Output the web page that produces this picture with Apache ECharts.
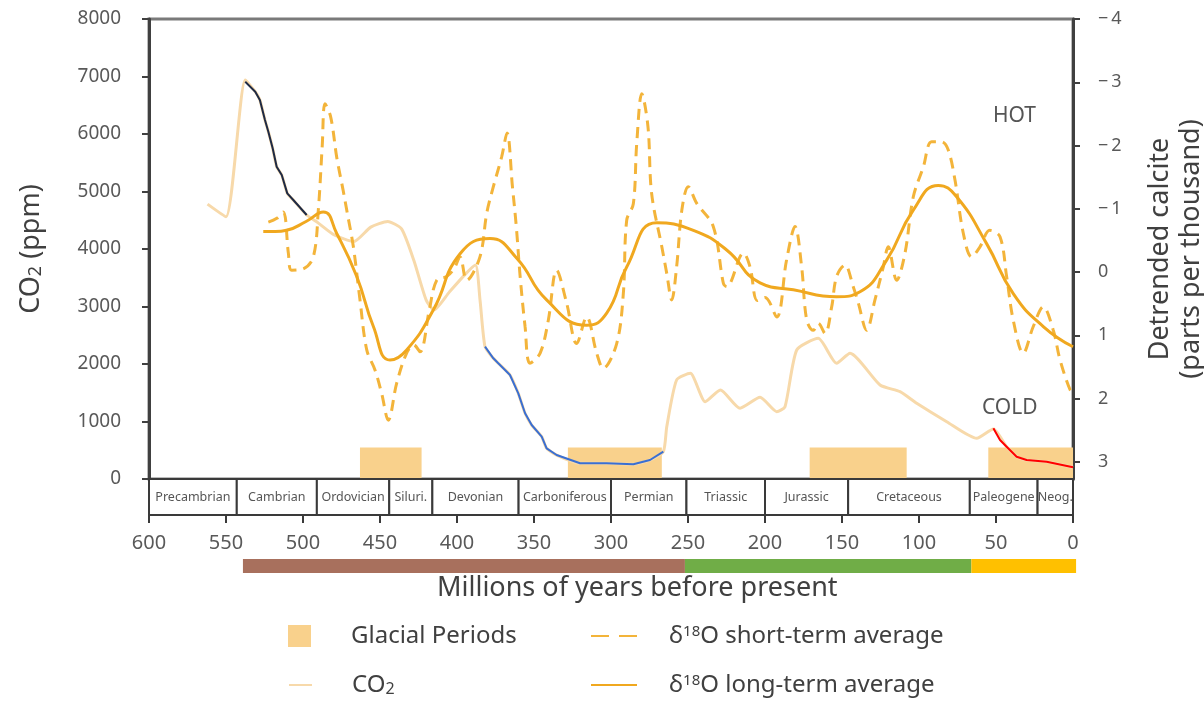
<!DOCTYPE html>
<html><head><meta charset="utf-8">
<script src="https://cdn.jsdelivr.net/npm/echarts@6/dist/echarts.min.js"></script>
<style>html,body{margin:0;padding:0;background:#fff}#c{width:1204px;height:708px}</style>
</head><body><div id="c"></div>
<script>
// ---- data ----
const co2Years = [562,550,537.5,531,528,524.7,522.5,519.7,517.1,513.8,510.2,506.3,497.6,490,480,467,456,445,436,428,420,415,405,395,388,385,381.8,376.4,373.2,365.6,360.2,355.8,351.5,345,341.8,335.3,320.1,302.8,285.5,274.7,266,263.8,257.4,248.5,238.8,229,216.2,203.2,192.4,187,179.4,165.4,153.5,144.8,125.3,112.3,101.5,82,62.5,51.7,43.1,36.6,30.1,17.1,0];
const co2Values = [4780,4560,6940,6736,6591,6243,6040,5751,5431,5287,4968,4852,4591,4450,4250,4130,4380,4480,4350,3800,3110,2940,3250,3550,3720,3100,2300,2099,2012,1809,1490,1143,939,736,534,417,273,273,256,330,475,910,1722,1838,1344,1548,1230,1420,1171,1258,2243,2447,2012,2186,1635,1518,1316,997,708,870,562,388,330,301,203];

const blackYears = [537.5,531,528,524.7,522.5,519.7,517.1,513.8,510.2,506.3,497.6];
const blackValues = [6910,6736,6591,6243,6040,5751,5431,5287,4968,4852,4591];
const blueYears = [381.8,376.4,373.2,365.6,360.2,355.8,351.5,345,341.8,335.3,320.1,302.8,285.5,274.7,266];
const blueValues = [2301,2099,2012,1809,1490,1143,939,736,534,417,273,273,256,330,475];
const redYears = [51.7,47.4,43.1,36.6,30.1,17.1,0];
const redValues = [881,678,562,388,330,301,203];

const stYears = [522.5,517,512.8,509.5,507.4,500,493.3,490,487.5,485.7,482,478,474,471.6,467.3,463,458.6,453.2,448.9,444.6,439.2,432.7,428,424,418,413.2,406.7,402,398,393.7,385.1,380.7,376.4,371,367.5,364,361.5,359,355.8,352.6,346,340.7,335.3,328.8,322.3,315.8,309.3,305,296.3,292,289.8,285.5,283.3,280,276,273.6,267,263.8,260.6,257.4,254,249.8,244.4,233.6,227,224.9,214,209.7,205,200,192.4,186,180.5,176.2,172.9,168.6,165.4,161,156.7,153.5,148.1,142.7,139.4,134,128.6,123.2,120,114.5,109.1,103.7,97.2,91.8,85.3,81,76.6,71.2,65.8,60.4,54,47.4,43.1,38.8,32.3,25.8,19.3,12.8,8.4,1.9,0];
const stValues = [-0.79,-0.85,-0.95,-0.30,-0.03,-0.05,-0.24,-1.0,-2.0,-2.66,-2.45,-1.8,-1.3,-0.98,-0.40,0.44,1.23,1.55,1.92,2.34,1.76,1.28,1.15,1.26,0.6,0.13,0.07,-0.05,-0.24,0.13,-0.24,-0.93,-1.35,-1.82,-2.2,-1.35,-0.72,0.07,0.86,1.44,1.28,0.76,-0.03,0.49,1.13,0.71,1.28,1.52,1.13,0.34,-0.82,-1.08,-2.03,-2.82,-2.30,-1.24,-0.40,0.02,0.44,-0.08,-0.98,-1.35,-1.09,-0.72,0.18,0.23,-0.30,-0.08,0.45,0.40,0.71,-0.19,-0.72,-0.08,0.76,0.92,0.81,0.97,0.55,0.07,-0.11,0.23,0.49,0.92,0.44,-0.08,-0.40,0.13,-0.30,-1.19,-1.66,-2.06,-2.06,-1.93,-1.45,-0.61,-0.24,-0.40,-0.66,-0.56,0.07,0.76,1.28,0.86,0.55,0.92,1.39,1.86,1.9];

const ltYears = [525.8,518,510.6,498,486.8,478.1,465.1,454.3,443.5,432.7,415.4,398,378.6,361.2,341.8,315.8,302.8,289.8,270.3,246.5,224.9,203.2,181.6,153.5,138.3,121,103.7,87.5,75.6,56.1,38.8,19.3,0];
const ltValues = [-0.64,-0.64,-0.66,-0.8,-0.95,-0.61,0.07,0.86,1.39,1.23,0.60,-0.29,-0.53,-0.22,0.44,0.84,0.65,-0.08,-0.78,-0.66,-0.35,0.17,0.28,0.39,0.31,-0.19,-0.98,-1.37,-1.19,-0.45,0.34,0.86,1.18];

const glacialStart = [463,328,171,55];
const glacialEnd = [423,267,108,0];
const glacialLevel = 550;

const periodNames = ['Precambrian','Cambrian','Ordovician','Siluri.','Devonian','Carboniferous','Permian','Triassic','Jurassic','Cretaceous','Paleogene','Neog.'];
const periodStart = [600,543,491,444,416,360,300,251,200,146,67,23];
const periodEnd   = [543,491,444,416,360,300,251,200,146,67,23,0];

const eraStart = [539,252,66];
const eraEnd = [252,66,-2];
const eraColors = ['#a8705d','#70ad47','#ffc000'];

const leftTicks = [0,1000,2000,3000,4000,5000,6000,7000,8000];
const rightTicks = [-4,-3,-2,-1,0,1,2,3];
const xTicks = [0,50,100,150,200,250,300,350,400,450,500,550,600];

// ---- helpers ----
const zip = (a, b) => a.map((v, i) => [v, b[i]]);
const FONT = 'Noto Sans';
const glacialColor = '#f9d18c';
const labelColor = '#595959';
const textColor = '#404040';

const chart = echarts.init(document.getElementById('c'));
const nameRich = {
  sup: {fontSize: 15, verticalAlign: 'top', fontFamily: FONT, color: textColor},
  sub: {fontSize: 16, verticalAlign: 'bottom', fontFamily: FONT, color: textColor}
};
const legendFmt = n => {
  if (n === 'CO2') return 'CO{sub|2}';
  if (n.indexOf('δ18O') === 0) return 'δ{sup|18}O' + n.slice(4);
  return n;
};
const hideSym = {color: 'rgba(0,0,0,0)', borderWidth: 0, opacity: 0};
const mkLegend = (left, top, item, pad, w) => ({
  left: left, top: top, padding: 0, itemWidth: w, itemHeight: 22, selectedMode: false,
  data: [item], formatter: legendFmt,
  textStyle: {fontSize: 24, color: textColor, fontFamily: FONT, padding: [0, 0, 0, pad], rich: nameRich}
});

chart.setOption({
  animation: false,
  backgroundColor: '#fff',
  textStyle: {fontFamily: FONT},
  grid: [
    {left: 149, right: 131, top: 19, height: 460, show: true, borderColor: '#7a7a7a', borderWidth: 3, outerBoundsMode: 'none', containLabel: false},
    {left: 149, right: 131, top: 479, height: 36, show: true, borderColor: '#3a3a3a', borderWidth: 2, outerBoundsMode: 'none', containLabel: false},
    {left: 149, right: 131, top: 559, height: 14, show: false, outerBoundsMode: 'none', containLabel: false}
  ],
  xAxis: [
    {gridIndex: 0, type: 'value', min: 0, max: 600, inverse: true, axisLine: {show: true, onZero: false, lineStyle: {color: '#3a3a3a', width: 2}}, axisTick: {show: false}, axisLabel: {show: false}, splitLine: {show: false}},
    {gridIndex: 1, type: 'value', min: 0, max: 600, interval: 50, inverse: true,
     axisLine: {show: true, onZero: false, lineStyle: {color: '#3a3a3a', width: 2}},
     axisTick: {show: true, length: 8, lineStyle: {color: '#3a3a3a', width: 2}, customValues: xTicks},
     axisLabel: {fontSize: 20, color: labelColor, margin: 18, fontFamily: FONT, customValues: xTicks},
     splitLine: {show: false}},
    {gridIndex: 2, type: 'value', min: 0, max: 600, inverse: true, show: false}
  ],
  yAxis: [
    {gridIndex: 0, type: 'value', min: 0, max: 8000, interval: 1000, position: 'left',
     name: 'CO{sub|2} (ppm)', nameLocation: 'middle', nameGap: 104, nameRotate: 90,
     nameTextStyle: {fontSize: 27, color: textColor, fontFamily: FONT, rich: {sub: {fontSize: 18, verticalAlign: 'bottom', color: textColor, fontFamily: FONT}}},
     axisLine: {show: true, onZero: false, lineStyle: {color: '#404040', width: 3}},
     axisTick: {show: true, length: 7, lineStyle: {color: '#404040', width: 2}, customValues: leftTicks},
     axisLabel: {fontSize: 19, color: labelColor, margin: 28, fontFamily: FONT, customValues: leftTicks, formatter: v => String(v)},
     splitLine: {show: false}},
    {gridIndex: 0, type: 'value', min: -4, max: 3.27, interval: 1, inverse: true, position: 'right',
     name: 'Detrended calcite\n(parts per thousand)', nameLocation: 'middle', nameGap: 72, nameRotate: 90,
     nameTextStyle: {fontSize: 27, color: textColor, fontFamily: FONT, lineHeight: 31},
     axisLine: {show: true, onZero: false, lineStyle: {color: '#404040', width: 3}},
     axisTick: {show: true, length: 7, lineStyle: {color: '#404040', width: 2}, customValues: rightTicks},
     axisLabel: {fontSize: 18, color: labelColor, margin: 25, fontFamily: FONT, customValues: rightTicks,
       formatter: v => v < 0 ? '\u2212\u2009' + Math.abs(v) : String(v)},
     splitLine: {show: false}},
    {gridIndex: 1, type: 'value', min: 0, max: 1, show: false},
    {gridIndex: 2, type: 'value', min: 0, max: 1, show: false}
  ],
  legend: [
    mkLegend(288, 624, {name: 'Glacial Periods', icon: 'rect'}, 35, 23),
    mkLegend(288, 673, {name: 'CO2', itemStyle: hideSym}, 35, 23),
    mkLegend(590, 624, {name: 'δ18O short-term average', itemStyle: hideSym, lineStyle: {type: [18, 10]}}, 27, 46),
    mkLegend(590, 673, {name: 'δ18O long-term average', itemStyle: hideSym}, 27, 46)
  ],
  graphic: [
    {type: 'text', left: 437, top: 575, style: {text: 'Millions of years before present', fontSize: 27, fill: textColor, fontFamily: FONT}},
    {type: 'text', left: 993, top: 106, style: {text: 'HOT', fontSize: 21, fill: '#555', fontFamily: FONT}},
    {type: 'text', left: 982, top: 398, style: {text: 'COLD', fontSize: 21, fill: '#555', fontFamily: FONT}}
  ],
  series: [
    {name: 'Glacial Periods', type: 'custom', xAxisIndex: 0, yAxisIndex: 0, z: 1,
     itemStyle: {color: glacialColor},
     data: glacialStart.map((s, i) => [s, glacialEnd[i]]),
     encode: {x: [0, 1]},
     renderItem: (params, api) => {
       const p1 = api.coord([api.value(0), glacialLevel]);
       const p2 = api.coord([api.value(1), 0]);
       return {type: 'rect', shape: {x: p1[0], y: p1[1], width: p2[0] - p1[0], height: p2[1] - p1[1]}, style: {fill: glacialColor}};
     }},
    {name: 'CO2', type: 'line', xAxisIndex: 0, yAxisIndex: 0, z: 2, symbol: 'none', smooth: 0.2,
     data: zip(co2Years, co2Values), lineStyle: {color: '#f7d9aa', width: 3}, itemStyle: {color: '#f7d9aa'}},
    {name: 'δ18O short-term average', type: 'line', xAxisIndex: 0, yAxisIndex: 1, z: 3, symbol: 'none', smooth: 0.35,
     data: zip(stYears, stValues), lineStyle: {color: '#f3b43a', width: 3, type: [11, 7]}, itemStyle: {color: '#f3b43a'}},
    {name: 'δ18O long-term average', type: 'line', xAxisIndex: 0, yAxisIndex: 1, z: 4, symbol: 'none', smooth: 0.5,
     data: zip(ltYears, ltValues), lineStyle: {color: '#f0a81f', width: 3}, itemStyle: {color: '#f0a81f'}},
    {name: 'black', type: 'line', xAxisIndex: 0, yAxisIndex: 0, z: 5, symbol: 'none',
     data: zip(blackYears, blackValues), lineStyle: {color: '#1e2a45', width: 2}},
    {name: 'blue', type: 'line', xAxisIndex: 0, yAxisIndex: 0, z: 5, symbol: 'none',
     data: zip(blueYears, blueValues), lineStyle: {color: '#3a6fd3', width: 2}},
    {name: 'red', type: 'line', xAxisIndex: 0, yAxisIndex: 0, z: 5, symbol: 'none',
     data: zip(redYears, redValues), lineStyle: {color: '#ff0000', width: 2}},
    {name: 'periods', type: 'custom', xAxisIndex: 1, yAxisIndex: 2, z: 2,
     data: periodStart.map((s, i) => [s, periodEnd[i]]),
     encode: {x: [0, 1]},
     renderItem: (params, api) => {
       const p1 = api.coord([api.value(0), 1]);
       const p2 = api.coord([api.value(1), 0]);
       return {type: 'group', children: [
         {type: 'rect', shape: {x: p1[0], y: p1[1], width: p2[0] - p1[0], height: p2[1] - p1[1]}, style: {fill: '#fff', stroke: '#3a3a3a', lineWidth: 2}},
         {type: 'text', style: {x: (p1[0] + p2[0]) / 2, y: (p1[1] + p2[1]) / 2, text: periodNames[params.dataIndex], align: 'center', verticalAlign: 'middle', textAlign: 'center', textVerticalAlign: 'middle', fontSize: 12.5, fill: '#555', fontFamily: FONT}}
       ]};
     }},
    {name: 'eras', type: 'custom', xAxisIndex: 2, yAxisIndex: 3, z: 2,
     data: eraStart.map((s, i) => [s, eraEnd[i]]),
     encode: {x: [0, 1]},
     renderItem: (params, api) => {
       const p1 = api.coord([api.value(0), 1]);
       const p2 = api.coord([api.value(1), 0]);
       return {type: 'rect', shape: {x: p1[0], y: p1[1], width: p2[0] - p1[0], height: p2[1] - p1[1]}, style: {fill: eraColors[params.dataIndex]}};
     }}
  ]
});
</script>
</body></html>
